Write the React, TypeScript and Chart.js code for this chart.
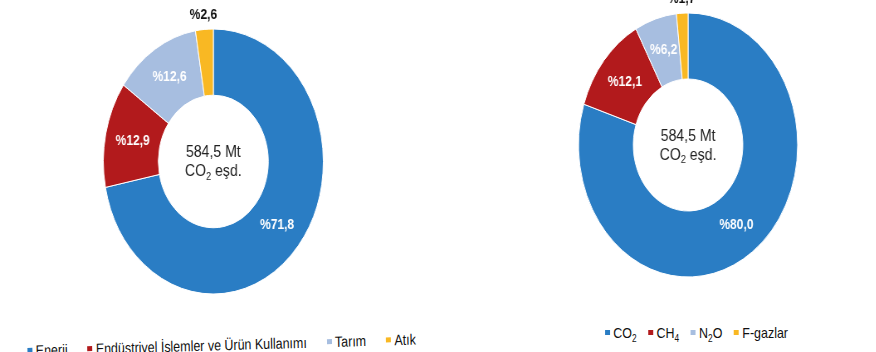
import React, { useEffect, useRef } from "react";
import { Chart, registerables } from "chart.js";

Chart.register(...registerables);

// ---- data ----
const sectorLabels = ["Enerji", "Endüstriyel İşlemler ve Ürün Kullanımı", "Tarım", "Atık"];
const sectorValues = [71.8, 12.9, 12.6, 2.6];
const gasLabels = ["CO2", "CH4", "N2O", "F-gazlar"];
const gasLegendParts: [string, string, string][] = [
  ["CO", "2", ""],
  ["CH", "4", ""],
  ["N", "2", "O"],
  ["F-gazlar", "", ""],
];
const gasValues = [80.0, 12.1, 6.2, 1.7];
const totalText = "584,5 Mt";
const unitParts: [string, string, string] = ["CO", "2", " eşd."];
const sliceColors = ["#2A7DC4", "#B21A1C", "#A7BEE0", "#F9B823"];

// ---- layout ----
const SX = 0.83;
const FONT = "'Liberation Sans', Arial, sans-serif";

const labelPlugin = {
  id: "sliceLabels",
  afterDatasetsDraw(chart: any) {
    const ctx: CanvasRenderingContext2D = chart.ctx;
    const meta = chart.getDatasetMeta(0);
    const data = chart.data.datasets[0].data as number[];
    ctx.save();
    ctx.textAlign = "center";
    ctx.textBaseline = "middle";
    ctx.font = `bold 14.5px ${FONT}`;
    meta.data.forEach((arc: any, i: number) => {
      const p = arc.getProps(["x", "y", "startAngle", "endAngle", "innerRadius", "outerRadius"], true);
      const mid = (p.startAngle + p.endAngle) / 2;
      const outside = data[i] < 5;
      const r = outside ? p.outerRadius + 14 : (p.innerRadius + p.outerRadius) / 2;
      ctx.fillStyle = outside ? "#111" : "#fff";
      ctx.fillText("%" + data[i].toFixed(1).replace(".", ","), p.x + Math.cos(mid) * r, p.y + Math.sin(mid) * r);
    });
    const cx = meta.data[0].x;
    const cy = meta.data[0].y;
    ctx.fillStyle = "#222";
    ctx.font = `17px ${FONT}`;
    ctx.fillText(totalText, cx, cy - 9);
    // second line with subscript
    ctx.textAlign = "left";
    ctx.font = `17px ${FONT}`;
    const w1 = ctx.measureText(unitParts[0]).width;
    const w3 = ctx.measureText(unitParts[2]).width;
    ctx.font = `11px ${FONT}`;
    const w2 = ctx.measureText(unitParts[1]).width;
    let x = cx - (w1 + w2 + w3) / 2;
    const y2 = cy + 10;
    ctx.font = `17px ${FONT}`;
    ctx.fillText(unitParts[0], x, y2);
    x += w1;
    ctx.font = `11px ${FONT}`;
    ctx.fillText(unitParts[1], x, y2 + 5);
    x += w2;
    ctx.font = `17px ${FONT}`;
    ctx.fillText(unitParts[2], x, y2);
    ctx.restore();
  },
};

function Donut(props: { labels: string[]; values: number[]; radius: number; left: number; top: number; w: number; h: number }) {
  const ref = useRef<HTMLCanvasElement>(null);
  useEffect(() => {
    const chart = new Chart(ref.current!, {
      type: "doughnut",
      data: {
        labels: props.labels,
        datasets: [
          {
            data: props.values,
            backgroundColor: sliceColors,
            borderColor: "#ffffff",
            borderWidth: 1,
            hoverOffset: 0,
            radius: props.radius,
            cutout: "50%",
          } as any,
        ],
      },
      options: {
        responsive: false,
        animation: false,
        events: [],
        layout: { padding: 0 },
        plugins: { legend: { display: false }, tooltip: { enabled: false } },
      } as any,
      plugins: [labelPlugin],
    });
    return () => chart.destroy();
  }, []);
  return (
    <canvas
      ref={ref}
      width={props.w}
      height={props.h}
      style={{ position: "absolute", left: props.left, top: props.top, width: props.w, height: props.h }}
    />
  );
}

const sq = (color: string) => (
  <span style={{ display: "inline-block", width: 6, height: 5, background: color, marginRight: 4 }} />
);

const subStyle: React.CSSProperties = { fontSize: 10, verticalAlign: "-4px", lineHeight: 0 };

export default function App() {
  return (
    <div
      style={{
        position: "fixed",
        left: 0,
        top: 0,
        width: 876 / SX,
        height: 352,
        overflow: "hidden",
        background: "#fff",
        transform: `scaleX(${SX})`,
        transformOrigin: "0 0",
      }}
    >
      <Donut labels={sectorLabels} values={sectorValues} radius={132.5} left={26.6} top={0} w={460} h={323} />
      <Donut labels={gasLabels} values={gasValues} radius={132} left={628.9} top={0} w={400} h={290} />
      <div
        style={{
          position: "absolute",
          left: 32.5,
          top: 335.5,
          display: "flex",
          alignItems: "center",
          whiteSpace: "nowrap",
          font: `15px ${FONT}`,
          lineHeight: "17px",
          color: "#111",
          transform: "rotate(-1.4deg)",
          transformOrigin: "50% 50%",
        }}
      >
        {sectorLabels.map((l, i) => (
          <span key={l} style={{ display: "flex", alignItems: "center", marginRight: 24 }}>
            {sq(sliceColors[i])}
            <span>{l}</span>
          </span>
        ))}
      </div>
      <div
        style={{
          position: "absolute",
          left: 729,
          top: 323.5,
          display: "flex",
          alignItems: "center",
          whiteSpace: "nowrap",
          font: `15px ${FONT}`,
          lineHeight: "17px",
          color: "#111",
        }}
      >
        {gasLegendParts.map((p, i) => (
          <span key={i} style={{ display: "flex", alignItems: "center", marginRight: 14 }}>
            {sq(sliceColors[i])}
            <span>
              {p[0]}
              {p[1] ? <sub style={subStyle}>{p[1]}</sub> : null}
              {p[2]}
            </span>
          </span>
        ))}
      </div>
    </div>
  );
}
